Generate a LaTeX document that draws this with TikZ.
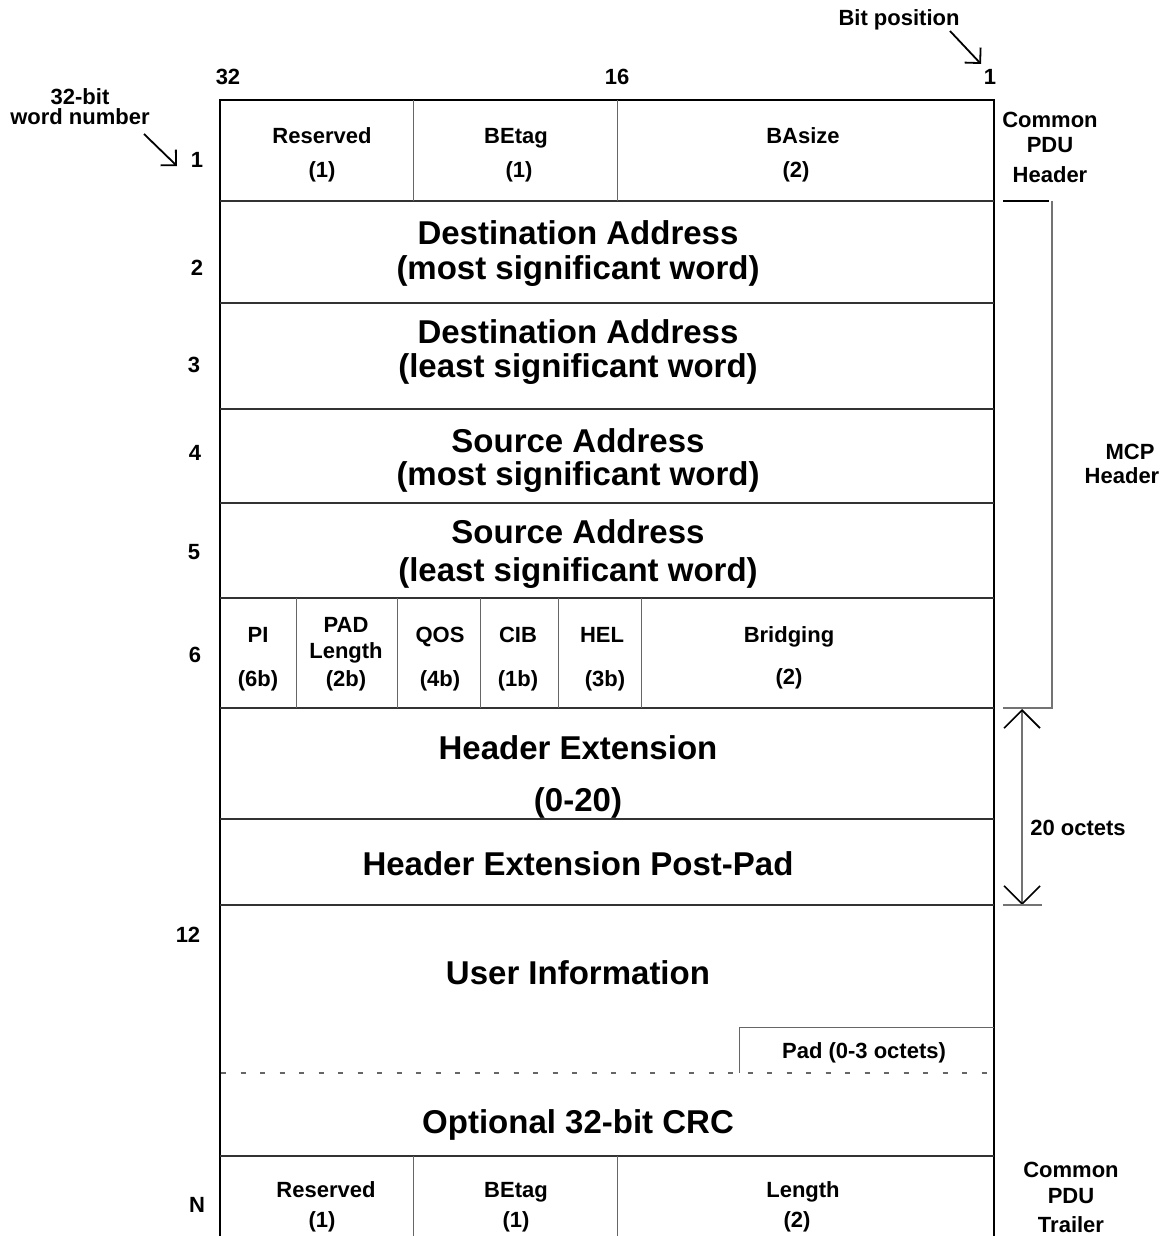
\documentclass[tikz,border=0pt]{standalone}
\usepackage{fontspec}
\setmainfont{Liberation Sans}
\usetikzlibrary{arrows.meta}
\begin{document}
\begin{tikzpicture}[x=1pt,y=-1pt,
  sm/.style={font=\bfseries\fontsize{22}{26}\selectfont, inner sep=0pt, text height=15.8pt, text depth=0pt},
  bg/.style={font=\bfseries\fontsize{33}{38}\selectfont, inner sep=0pt, text height=23.6pt, text depth=0pt},
  frame/.style={line width=1.4pt, black},
  rowline/.style={line width=1.2pt, black!80},
  divider/.style={line width=1pt, black!60},
  padline/.style={line width=1.6pt, black!60, dash pattern=on 5pt off 14.5pt},
  leader/.style={line width=1.8pt, black, -{Straight Barb[length=11pt,width=22pt,line width=1.8pt]}},
  span/.style={line width=1.2pt, black!55,
    {Straight Barb[length=18pt,width=36pt,line width=1.6pt,color=black]}-{Straight Barb[length=18pt,width=36pt,line width=1.6pt,color=black]}}]
\useasboundingbox (0,0) rectangle (1170,1236);

% ---------- outer frame and row separators ----------
\draw[frame] (220,1236) -- (220,100) -- (994,100) -- (994,1236);
\foreach \y in {201,303,409,503,598,708,819,905,1156}
  \draw[rowline] (220,\y) -- (994,\y);
\draw[padline] (221,1073) -- (994,1073);

% field dividers
\foreach \x in {413,617} {
  \draw[divider] (\x,100) -- (\x,201);
  \draw[divider] (\x,1156) -- (\x,1236);
}
\foreach \x in {296,397,480,558,641}
  \draw[divider] (\x,598) -- (\x,708);
\draw[divider] (994,1027) -- (739,1027) -- (739,1073);

% ---------- bit position scale ----------
\node[sm] (bitpos) at (899,18) {Bit position};
\node[sm] (b32) at (228,77) {32};
\node[sm] (b16) at (617,77) {16};
\node[sm] (b1) at (990,77) {1};
\coordinate (bitA) at (950,31);
\coordinate (bitB) at (981,64);
\draw[leader] (bitA) -- (bitB);

% ---------- word numbers ----------
\node[sm] (wn1) at (80,97) {32-bit};
\node[sm] (wn2) at (80,117) {word number};
\coordinate (wnA) at (144,134);
\coordinate (wnB) at (177,166);
\draw[leader] (wnA) -- (wnB);
\node[sm] (w1) at (197,160) {1};
\node[sm] (w2) at (197,268) {2};
\node[sm] (w3) at (194,365) {3};
\node[sm] (w4) at (195,453) {4};
\node[sm] (w5) at (194,552) {5};
\node[sm] (w6) at (195,655) {6};
\node[sm] (w12) at (188,935) {12};
\node[sm] (wN) at (197,1205) {N};

% ---------- word 1: common PDU header ----------
\node[sm] (hres) at (322,136) {Reserved};
\node[sm] (hres1) at (322,170) {(1)};
\node[sm] (hbe) at (516,136) {BEtag};
\node[sm] (hbe1) at (519,170) {(1)};
\node[sm] (hba) at (803,136) {BAsize};
\node[sm] (hba1) at (796,170) {(2)};
\node[sm] (cph1) at (1050,120) {Common};
\node[sm] (cph2) at (1050,145) {PDU};
\node[sm] (cph3) at (1050,175) {Header};

% ---------- words 2-5: addresses ----------
\node[bg] (da1) at (578,233) {Destination Address};
\node[bg] (da2) at (578,268) {(most significant word)};
\node[bg] (dl1) at (578,332) {Destination Address};
\node[bg] (dl2) at (578,366) {(least significant word)};
\node[bg] (sa1) at (578,441) {Source Address};
\node[bg] (sa2) at (578,474) {(most significant word)};
\node[bg] (sl1) at (578,532) {Source Address};
\node[bg] (sl2) at (578,570) {(least significant word)};

% ---------- word 6: control fields ----------
\node[sm] (pi) at (258,635) {PI};
\node[sm] (pi1) at (258,679) {(6b)};
\node[sm] (pad1) at (346,625) {PAD};
\node[sm] (pad2) at (346,651) {Length};
\node[sm] (pad3) at (346,679) {(2b)};
\node[sm] (qos) at (440,635) {QOS};
\node[sm] (qos1) at (440,679) {(4b)};
\node[sm] (cib) at (518,635) {CIB};
\node[sm] (cib1) at (518,679) {(1b)};
\node[sm] (hel) at (602,635) {HEL};
\node[sm] (hel1) at (605,679) {(3b)};
\node[sm] (brg) at (789,635) {Bridging};
\node[sm] (brg1) at (789,677) {(2)};

% MCP header bracket
\coordinate (mcpT) at (1052,201);
\coordinate (mcpB) at (1052,708);
\draw[line width=1.2pt, black] (1003,201) -- (1049,201);
\draw[line width=1.2pt, black!55] (mcpT) -- (mcpB) -- (1003,708);
\node[sm] (mcp1) at (1130,452) {MCP};
\node[sm] (mcp2) at (1122,476) {Header};

% ---------- header extension ----------
\node[bg] (he1) at (578,748) {Header Extension};
\node[bg] (he2) at (578,800) {(0-20)};
\node[bg] (hep) at (578,864) {Header Extension Post-Pad};
\coordinate (octT) at (1022,709);
\coordinate (octB) at (1022,905);
\draw[span] (octT) -- (octB);
\draw[line width=1.2pt, black!55] (1003,905) -- (1042,905);
\node[sm] (oct) at (1078,828) {20 octets};

% ---------- user information and trailer ----------
\node[bg] (ui) at (578,973) {User Information};
\node[sm] (padf) at (864,1051) {Pad (0-3 octets)};
\node[bg] (crc) at (578,1122) {Optional 32-bit CRC};
\node[sm] (tres) at (326,1190) {Reserved};
\node[sm] (tres1) at (322,1220) {(1)};
\node[sm] (tbe) at (516,1190) {BEtag};
\node[sm] (tbe1) at (516,1220) {(1)};
\node[sm] (tlen) at (803,1190) {Length};
\node[sm] (tlen1) at (797,1220) {(2)};
\node[sm] (cpt1) at (1071,1170) {Common};
\node[sm] (cpt2) at (1071,1196) {PDU};
\node[sm] (cpt3) at (1071,1225) {Trailer};
\end{tikzpicture}
\end{document}
